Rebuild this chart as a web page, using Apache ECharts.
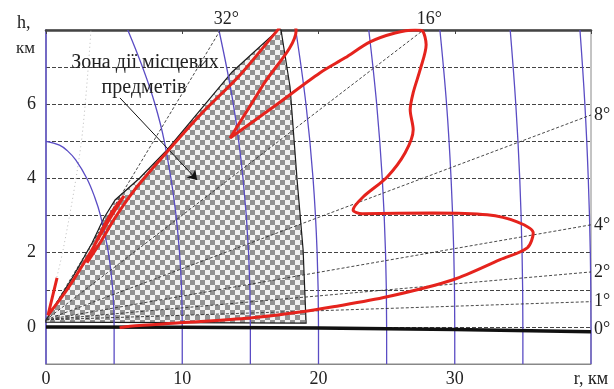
<!DOCTYPE html>
<html>
<head>
<meta charset="utf-8">
<script src="https://cdn.jsdelivr.net/npm/echarts@6/dist/echarts.min.js"></script>
<style>html,body{margin:0;padding:0;background:#fff}#main{width:614px;height:389px}</style>
</head>
<body>
<div id="main"></div>
<script>
// ---- data ----
// slant-range rings (purple): r at heights ringH
const ringH   = [-1, 0, 2, 4, 6, 8];
const ring10R = [10, 10, 9.80, 9.17, 8.00, 6.00];
const ring15R = [15, 15, 14.87, 14.46, 13.75, 12.69];
const ring20R = [20, 20, 19.90, 19.60, 19.08, 18.33];
const ring25R = [25, 25, 24.92, 24.68, 24.27, 23.69];
const ring30R = [30, 30, 29.93, 29.73, 29.40, 28.91];
const ring35R = [35, 35, 34.94, 34.77, 34.48, 34.07];
const ring40R = [40, 40, 39.95, 39.80, 39.55, 39.19];
const ring5H  = [-1, 0, 1, 2, 3, 3.5, 4, 4.5, 4.75, 4.9, 5];
const ring5R  = [5, 5, 4.90, 4.58, 4.00, 3.57, 3.00, 2.18, 1.56, 0.99, 0];

// elevation-angle lines
const elevLabels = ['1°', '2°', '4°', '8°', '16°', '32°'];
const elevStartR = 0, elevStartH = 0.19;
const elevEndR = [40, 40, 40, 40, 27.7, 12.8];
const elevEndH = [0.68, 1.48, 2.75, 5.71, 8, 8];

// ground (0°)
const groundR = [0, 10, 20, 30, 40];
const groundH = [0, -0.01, -0.03, -0.07, -0.13];

// zone of local objects (hatched)
const hatchR = [0, 1.98, 3.38, 4.26, 5.07, 6.90, 8.88, 13.66, 17.03, 17.25, 17.91, 18.43, 18.87, 19.09, 0];
const hatchH = [0.19, 1.35, 2.26, 2.94, 3.42, 4.02, 4.77, 6.87, 8.0, 8.0, 6.47, 3.96, 2.08, 0.10, 0.13];

// coverage diagram (red)
const redR = [0.81, 0.15, 1.54, 3.23, 4.19, 5.21, 5.73, 4.85, 3.82, 3.01, 3.96, 5.07, 6.39, 8.37, 11.31, 14.24, 17.03, 17.69, 18.36,
  15.93, 13.51, 16.81, 20.12, 21.95, 23.79, 25.62, 27.09, 27.61, 27.90, 27.46, 26.95, 26.73, 26.95, 26.36, 25.04, 23.27, 22.54, 23.20,
  28.41, 32.38, 34.58, 35.76, 35.32, 33.33, 29.88, 25.04, 21.07, 18.65, 14.98, 9.84, 6.17, 5.4];
const redH = [1.32, 0.32, 1.00, 1.99, 2.61, 3.23, 3.53, 3.10, 2.40, 1.73, 2.26, 2.94, 3.64, 4.50, 5.71, 6.79, 8.01, 8.27, 8.0,
  6.52, 5.09, 5.96, 6.85, 7.25, 7.68, 7.92, 8.0, 7.98, 7.60, 6.93, 6.31, 5.85, 5.31, 4.69, 4.04, 3.50, 3.15, 3.05,
  3.07, 3.02, 2.83, 2.53, 2.13, 1.81, 1.27, 0.81, 0.54, 0.40, 0.24, 0.11, 0.02, -0.02];

// faint dotted line
const faintR = [0, 1.25, 2.6, 3.3];
const faintH = [0.19, 2.07, 5, 8];

// annotation arrow
const arrowFrom = [5.43, 6.17];
const arrowTo = [11.09, 3.96];

const xTicks = { min: 0, max: 40, interval: 10, lastLabel: 'r, км' };
const yTicks = { min: -1, max: 8, interval: 1, shown: [0, 2, 4, 6] };

// ---- chart ----
const FONT = '"Liberation Serif", "DejaVu Serif", serif';
const PURPLE = '#5a4cc4';
const RED = '#e5231d';
const zip = (a, b) => a.map((v, i) => [v, b[i]]);

const pc = document.createElement('canvas');
pc.width = 10; pc.height = 10;
const ctx = pc.getContext('2d');
ctx.fillStyle = '#f2f2f2'; ctx.fillRect(0, 0, 10, 10);
ctx.fillStyle = '#939393'; ctx.fillRect(0, 0, 5, 5); ctx.fillRect(5, 5, 5, 5);

const ringSeries = [
  zip(ring5R, ring5H), zip(ring10R, ringH), zip(ring15R, ringH), zip(ring20R, ringH),
  zip(ring25R, ringH), zip(ring30R, ringH), zip(ring35R, ringH), zip(ring40R, ringH)
].map(d => ({
  type: 'line', data: d, smooth: 0.4, symbol: 'none', silent: true, z: 3,
  lineStyle: { color: PURPLE, width: 1.3 }
}));

const elevSeries = elevEndR.map((r, i) => ({
  type: 'line', data: [[elevStartR, elevStartH], [r, elevEndH[i]]], symbol: 'none', silent: true, z: 4,
  lineStyle: { color: '#333', width: 0.9, type: [3, 2] }
}));

const chart = echarts.init(document.getElementById('main'));
chart.setOption({
  animation: false,
  backgroundColor: '#fff',
  grid: { left: 46, right: 23, top: 30, bottom: 25, show: true, borderColor: '#888', borderWidth: 1 },
  xAxis: [{
    type: 'value', min: xTicks.min, max: xTicks.max, interval: xTicks.interval,
    axisLine: { onZero: false, lineStyle: { color: '#888', width: 1.2 } },
    axisTick: { show: false },
    splitLine: { show: false },
    axisLabel: {
      margin: 6, color: '#222', fontFamily: FONT, fontSize: 18, showMaxLabel: true,
      formatter: v => (v === xTicks.max ? xTicks.lastLabel : String(v))
    }
  }, {
    type: 'value', position: 'top', min: xTicks.min, max: xTicks.max, interval: xTicks.interval,
    axisLine: { onZero: false, lineStyle: { color: '#444', width: 2.5 } },
    axisTick: { show: true, inside: true, length: 4, lineStyle: { color: '#444' } },
    axisLabel: { show: false }, splitLine: { show: false }
  }],
  yAxis: {
    type: 'value', min: yTicks.min, max: yTicks.max, interval: yTicks.interval,
    axisLine: { show: true, onZero: false, lineStyle: { color: PURPLE, width: 1.5 } },
    axisTick: { show: false },
    axisLabel: {
      margin: 10, color: '#222', fontFamily: FONT, fontSize: 18,
      formatter: v => (yTicks.shown.indexOf(v) >= 0 ? String(v) : '')
    },
    splitLine: { show: true, lineStyle: { color: '#444', width: 1, type: [4, 2] } }
  },
  series: [
    {
      type: 'custom', silent: true, z: 1,
      data: zip(hatchR, hatchH),
      renderItem: (params, api) => {
        if (params.dataIndex !== 0) return null;
        return {
          type: 'polygon',
          shape: { points: hatchR.map((r, i) => api.coord([r, hatchH[i]])) },
          style: { fill: { image: pc, repeat: 'repeat' }, stroke: '#1a1a1a', lineWidth: 1.2 }
        };
      }
    },
    {
      type: 'line', data: zip(faintR, faintH), smooth: 0.3, symbol: 'none', silent: true, z: 2,
      lineStyle: { color: '#bbb', width: 1, type: [1, 3] }
    },
    ...ringSeries,
    ...elevSeries,
    {
      type: 'line', data: zip(groundR, groundH), symbol: 'none', silent: true, z: 5,
      lineStyle: { color: '#111', width: 3.5 },
      markLine: {
        silent: true, symbol: ['none', 'arrow'], symbolSize: 9,
        label: { show: false },
        lineStyle: { color: '#111', width: 1, type: 'solid' },
        data: [[{ coord: arrowFrom }, { coord: arrowTo }]]
      }
    },
    {
      type: 'line', data: zip(redR, redH), smooth: 0.3, symbol: 'none', silent: true, z: 6,
      lineStyle: { color: RED, width: 3 }
    }
  ]
});

// text labels tied to line ends
const graphics = [];
elevLabels.forEach((t, i) => {
  const p = chart.convertToPixel({ gridIndex: 0 }, [elevEndR[i], elevEndH[i]]);
  const top = elevEndH[i] >= yTicks.max;
  graphics.push({
    type: 'text', x: top ? p[0] + 6 : p[0] + 3, y: top ? p[1] - 11 : p[1], z: 20,
    style: { text: t, font: '18px ' + FONT, fill: '#222', align: top ? 'center' : 'left', verticalAlign: 'middle' }
  });
});
const g0 = chart.convertToPixel({ gridIndex: 0 }, [groundR[groundR.length - 1], groundH[groundH.length - 1]]);
graphics.push({ type: 'text', x: g0[0] + 3, y: g0[1] - 2, z: 20,
  style: { text: '0°', font: '18px ' + FONT, fill: '#222', align: 'left', verticalAlign: 'middle' } });
graphics.push({ type: 'text', x: 17, y: 23, z: 20,
  style: { text: 'h,', font: '18px ' + FONT, fill: '#222', align: 'left', verticalAlign: 'middle' } });
graphics.push({ type: 'text', x: 16, y: 49, z: 20,
  style: { text: 'км', font: '17px ' + FONT, fill: '#222', align: 'left', verticalAlign: 'middle' } });
graphics.push({ type: 'text', x: 145, y: 63, z: 20,
  style: { text: 'Зона дії місцевих', font: '20px ' + FONT, fill: '#222', align: 'center', verticalAlign: 'middle' } });
graphics.push({ type: 'text', x: 144, y: 88, z: 20,
  style: { text: 'предметів', font: '20px ' + FONT, fill: '#222', align: 'center', verticalAlign: 'middle' } });
chart.setOption({ graphic: graphics });
</script>
</body>
</html>
